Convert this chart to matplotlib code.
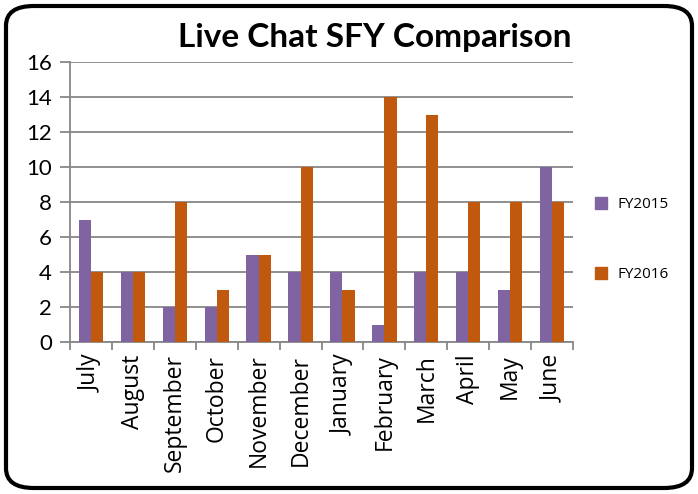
import numpy as np
import matplotlib.pyplot as plt
from matplotlib.patches import FancyBboxPatch
from matplotlib.lines import Line2D

# %% data
months = ["July", "August", "September", "October", "November", "December",
          "January", "February", "March", "April", "May", "June"]
fy2015 = [7, 4, 2, 2, 5, 4, 4, 1, 4, 4, 3, 10]
fy2016 = [4, 4, 8, 3, 5, 10, 3, 14, 13, 8, 8, 8]
y_ticks = [0, 2, 4, 6, 8, 10, 12, 14, 16]

purple = "#8064A2"
orange = "#C0580E"
grid_c = "#878787"

# %% figure
fig = plt.figure(figsize=(6.98, 4.94), dpi=100)
ax = fig.add_axes([70 / 698, 1 - 342 / 494, 503 / 698, 280 / 494])

x = np.arange(len(months))
w = 0.29
ax.bar(x - w / 2, fy2015, width=w, color=purple, label="FY2015", zorder=3)
ax.bar(x + w / 2, fy2016, width=w, color=orange, label="FY2016", zorder=3)

ax.set_xlim(-0.5, len(months) - 0.5)
ax.set_ylim(0, 16)
ax.set_yticks(y_ticks)
ax.set_yticklabels([str(v) for v in y_ticks], fontsize=16, family="Lato")
ax.yaxis.grid(True, color=grid_c, linewidth=1.3, zorder=0)
ax.tick_params(axis="y", length=7, width=1.3, color=grid_c, pad=6)

# category labels, tick marks between categories
ax.set_xticks(x)
ax.set_xticklabels(months, rotation=90, fontsize=16.5, family="Open Sans")
ax.tick_params(axis="x", which="major", length=0, pad=9)
ax.set_xticks(np.arange(-0.5, len(months)), minor=True)
ax.tick_params(axis="x", which="minor", length=6, width=1.3, color=grid_c)

for s in ["top", "right"]:
    ax.spines[s].set_visible(False)
for s in ["left", "bottom"]:
    ax.spines[s].set_color(grid_c)
    ax.spines[s].set_linewidth(1.3)

fig.text(375 / 698, 1 - 38 / 494, "Live Chat SFY Comparison", ha="center",
         va="center", fontsize=24, fontweight="bold", family="Lato")

# legend
handles = [Line2D([], [], marker="s", linestyle="", markersize=8,
                  color=c) for c in (purple, orange)]
fig.legend(handles, ["FY2015", "FY2016"], loc="center left",
           bbox_to_anchor=(572 / 698, 1 - 240 / 494), frameon=False,
           labelspacing=3.6, handletextpad=0.1,
           prop={"family": "Open Sans", "size": 11})

# rounded chart border
border = FancyBboxPatch((6 / 698, 6 / 494), 686 / 698, 482 / 494,
                        boxstyle="round,pad=0,rounding_size=0.04",
                        transform=fig.transFigure, fill=False,
                        edgecolor="black", linewidth=3)
fig.patches.append(border)

plt.savefig("out.png", dpi=100)
